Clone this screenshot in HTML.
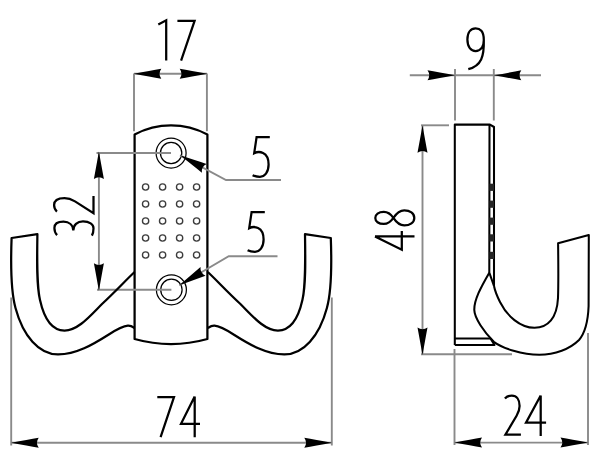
<!DOCTYPE html>
<html><head><meta charset="utf-8"><style>html,body{margin:0;padding:0;background:#fff;}svg{display:block;}</style></head>
<body><svg width="600" height="461" viewBox="0 0 600 461">
<rect width="600" height="461" fill="#fff"/>
<path d="M134,73.5 L134,131.2" stroke="#8a8a8a" stroke-width="1.9" fill="none"/>
<path d="M206.9,73.5 L206.9,131.2" stroke="#8a8a8a" stroke-width="1.9" fill="none"/>
<path d="M134,73.7 L207,73.7" stroke="#8a8a8a" stroke-width="1.9" fill="none"/>
<path d="M133.80,73.70 Q150.30,76.65 161.30,78.70 Q157.80,73.70 161.30,68.70 Q150.30,70.75 133.80,73.70 Z" fill="#000"/>
<path d="M207.20,73.70 Q190.70,70.75 179.70,68.70 Q183.20,73.70 179.70,78.70 Q190.70,76.65 207.20,73.70 Z" fill="#000"/>
<path d="M158.3,24.6 L166.2,20.3 V60.6 M177.4,20.9 H194.6 L181.1,60.6" stroke="#000" stroke-width="2.25" fill="none" stroke-linecap="butt" stroke-linejoin="miter" stroke-miterlimit="6"/>
<path d="M134.6,134.5 A77.4,77.4 0 0 1 207.4,134.5 V339 A135,135 0 0 1 134.6,339 Z" stroke="#000" stroke-width="2.25" fill="none" stroke-linejoin="round"/>
<circle cx="171.1" cy="153" r="15.0" stroke="#000" stroke-width="1.25" fill="none"/>
<circle cx="171.1" cy="153" r="10.7" stroke="#000" stroke-width="1.25" fill="none"/>
<circle cx="171.4" cy="289.8" r="15.0" stroke="#000" stroke-width="1.25" fill="none"/>
<circle cx="171.4" cy="289.8" r="10.7" stroke="#000" stroke-width="1.25" fill="none"/>
<circle cx="145.6" cy="187" r="3.15" stroke="#3c3c3c" stroke-width="1.35" fill="none"/>
<circle cx="145.6" cy="204" r="3.15" stroke="#3c3c3c" stroke-width="1.35" fill="none"/>
<circle cx="145.6" cy="221" r="3.15" stroke="#3c3c3c" stroke-width="1.35" fill="none"/>
<circle cx="145.6" cy="238" r="3.15" stroke="#3c3c3c" stroke-width="1.35" fill="none"/>
<circle cx="145.6" cy="255" r="3.15" stroke="#3c3c3c" stroke-width="1.35" fill="none"/>
<circle cx="162.6" cy="187" r="3.15" stroke="#3c3c3c" stroke-width="1.35" fill="none"/>
<circle cx="162.6" cy="204" r="3.15" stroke="#3c3c3c" stroke-width="1.35" fill="none"/>
<circle cx="162.6" cy="221" r="3.15" stroke="#3c3c3c" stroke-width="1.35" fill="none"/>
<circle cx="162.6" cy="238" r="3.15" stroke="#3c3c3c" stroke-width="1.35" fill="none"/>
<circle cx="162.6" cy="255" r="3.15" stroke="#3c3c3c" stroke-width="1.35" fill="none"/>
<circle cx="179.6" cy="187" r="3.15" stroke="#3c3c3c" stroke-width="1.35" fill="none"/>
<circle cx="179.6" cy="204" r="3.15" stroke="#3c3c3c" stroke-width="1.35" fill="none"/>
<circle cx="179.6" cy="221" r="3.15" stroke="#3c3c3c" stroke-width="1.35" fill="none"/>
<circle cx="179.6" cy="238" r="3.15" stroke="#3c3c3c" stroke-width="1.35" fill="none"/>
<circle cx="179.6" cy="255" r="3.15" stroke="#3c3c3c" stroke-width="1.35" fill="none"/>
<circle cx="196.6" cy="187" r="3.15" stroke="#3c3c3c" stroke-width="1.35" fill="none"/>
<circle cx="196.6" cy="204" r="3.15" stroke="#3c3c3c" stroke-width="1.35" fill="none"/>
<circle cx="196.6" cy="221" r="3.15" stroke="#3c3c3c" stroke-width="1.35" fill="none"/>
<circle cx="196.6" cy="238" r="3.15" stroke="#3c3c3c" stroke-width="1.35" fill="none"/>
<circle cx="196.6" cy="255" r="3.15" stroke="#3c3c3c" stroke-width="1.35" fill="none"/>
<path d="M98.9,152.5 L98.9,290" stroke="#8a8a8a" stroke-width="1.9" fill="none"/>
<path d="M96.5,153 L171,153" stroke="#8a8a8a" stroke-width="1.9" fill="none"/>
<path d="M97,289.8 L171.4,289.8" stroke="#8a8a8a" stroke-width="1.9" fill="none"/>
<path d="M98.90,151.60 Q95.95,168.10 93.90,179.10 Q98.90,175.60 103.90,179.10 Q101.85,168.10 98.90,151.60 Z" fill="#000"/>
<path d="M98.90,290.80 Q101.85,274.30 103.90,263.30 Q98.90,266.80 93.90,263.30 Q95.95,274.30 98.90,290.80 Z" fill="#000"/>
<path d="M180,155.3 L226,180 L281,180" stroke="#8a8a8a" stroke-width="1.9" fill="none"/>
<path d="M180.00,155.30 Q193.14,165.70 201.86,172.71 Q201.14,166.65 206.59,163.90 Q195.93,160.51 180.00,155.30 Z" fill="#000"/>
<path d="M179.3,285.3 L228.75,256.3 L277.5,256.3" stroke="#8a8a8a" stroke-width="1.9" fill="none"/>
<path d="M179.30,285.30 Q195.03,279.50 205.55,275.70 Q200.00,273.16 200.49,267.08 Q192.04,274.41 179.30,285.30 Z" fill="#000"/>
<path d="M269.8,137 H256.6 L254.2,153.2 C258.5,151 268.6,151 268.6,164.5 C268.6,172.5 264.5,176.8 260,176.8 C257,176.8 254.5,176.2 252.6,175.2" stroke="#000" stroke-width="2.25" fill="none" stroke-linecap="butt" stroke-linejoin="miter" stroke-miterlimit="6"/>
<path d="M269.8,137 H256.6 L254.2,153.2 C258.5,151 268.6,151 268.6,164.5 C268.6,172.5 264.5,176.8 260,176.8 C257,176.8 254.5,176.2 252.6,175.2" transform="translate(-5,75)" stroke="#000" stroke-width="2.25" fill="none" stroke-linecap="butt" stroke-linejoin="miter" stroke-miterlimit="6"/>
<path d="M134.6,272 C126,280 115,292 102,304 C90,316 78,330.5 64.5,330.5 C52,330.5 44,318 40,300 C36.5,285 37,260 37.4,234.2 L11.6,238 C10.6,265 11,292 15.5,308 C23,336 39,354.5 58,354.4 C76,354.5 93,344.5 108,335 C115,330.5 122,326 127.9,325.7 C131,325.5 133,327 134.6,328" stroke="#000" stroke-width="2.25" fill="none" stroke-linejoin="round"/>
<path d="M134.6,272 C126,280 115,292 102,304 C90,316 78,330.5 64.5,330.5 C52,330.5 44,318 40,300 C36.5,285 37,260 37.4,234.2 L11.6,238 C10.6,265 11,292 15.5,308 C23,336 39,354.5 58,354.4 C76,354.5 93,344.5 108,335 C115,330.5 122,326 127.9,325.7 C131,325.5 133,327 134.6,328" transform="translate(342.4,0) scale(-1,1)" stroke="#000" stroke-width="2.25" fill="none" stroke-linejoin="round"/>
<path d="M11.2,297.5 L11.2,445.5" stroke="#8a8a8a" stroke-width="1.9" fill="none"/>
<path d="M331.8,297.5 L331.8,445.5" stroke="#8a8a8a" stroke-width="1.9" fill="none"/>
<path d="M11.2,442.8 L331.8,442.8" stroke="#8a8a8a" stroke-width="1.9" fill="none"/>
<path d="M11.20,442.80 Q27.70,445.75 38.70,447.80 Q35.20,442.80 38.70,437.80 Q27.70,439.85 11.20,442.80 Z" fill="#000"/>
<path d="M331.80,442.80 Q315.30,439.85 304.30,437.80 Q307.80,442.80 304.30,447.80 Q315.30,445.75 331.80,442.80 Z" fill="#000"/>
<path d="M157.3,397 H174 L160.6,437.2 M194.7,396.6 V437.2 M194.7,396.6 L181,423.8 H200" stroke="#000" stroke-width="2.25" fill="none" stroke-linecap="butt" stroke-linejoin="miter" stroke-miterlimit="6"/>
<path d="M455,69 L455,120.5" stroke="#8a8a8a" stroke-width="1.9" fill="none"/>
<path d="M493.8,69 L493.8,120.5" stroke="#8a8a8a" stroke-width="1.9" fill="none"/>
<path d="M409.8,75.3 L541,75.3" stroke="#8a8a8a" stroke-width="1.9" fill="none"/>
<path d="M455.00,75.30 Q438.50,72.35 427.50,70.30 Q431.00,75.30 427.50,80.30 Q438.50,78.25 455.00,75.30 Z" fill="#000"/>
<path d="M493.80,75.30 Q510.30,78.25 521.30,80.30 Q517.80,75.30 521.30,70.30 Q510.30,72.35 493.80,75.30 Z" fill="#000"/>
<path d="M483.8,40 C483.8,31 480,28.4 475.6,28.4 C471,28.4 467.4,32 467.4,39.6 C467.4,47 471,51 475.6,51 C480,51 483.8,47.5 483.8,40 C484.2,56.5 481.5,65.5 468.3,69.2" stroke="#000" stroke-width="2.25" fill="none" stroke-linecap="butt" stroke-linejoin="miter" stroke-miterlimit="6"/>
<path d="M454.8,345 V124.6 H490 L494,127 V286" stroke="#000" stroke-width="2.05" fill="none" stroke-linejoin="round"/>
<path d="M489.5,124.6 L489.3,272.7 L494,286" stroke="#000" stroke-width="2.05" fill="none" stroke-linejoin="round"/>
<path d="M454.8,338.5 L490.5,338.5" stroke="#000" stroke-width="2.05" fill="none" stroke-linejoin="round"/>
<path d="M454.8,345 L494.5,345 L490.5,338.5" stroke="#000" stroke-width="2.05" fill="none" stroke-linejoin="round"/>
<path d="M489.3,272.7 C481,287 474,300 474.3,310 C474.5,318 484,332 493.8,341.8 C503,348.5 522,354.8 539.3,354.8 C555,354.8 570,349 579,340 C585,333 588,322 588.6,306 L588.8,235 L558.1,243.2 C558.3,262 558.6,282 558,298 C557,318 548,327.8 534.5,327.8 C520,327.8 507,316 500,302 C496.5,295 494.8,290 494,286" stroke="#000" stroke-width="2.05" fill="none" stroke-linejoin="round"/>
<path d="M422.5,126 L422.5,354" stroke="#8a8a8a" stroke-width="1.9" fill="none"/>
<path d="M421,125.3 L449,125.3" stroke="#8a8a8a" stroke-width="1.9" fill="none"/>
<path d="M421,354.2 L512,354.2" stroke="#8a8a8a" stroke-width="1.9" fill="none"/>
<path d="M422.50,125.20 Q419.55,141.70 417.50,152.70 Q422.50,149.20 427.50,152.70 Q425.45,141.70 422.50,125.20 Z" fill="#000"/>
<path d="M422.50,355.00 Q425.45,338.50 427.50,327.50 Q422.50,331.00 417.50,327.50 Q419.55,338.50 422.50,355.00 Z" fill="#000"/>
<g transform="translate(375,250.9) rotate(-90)"><path d="M14.5,0 V39.5 M14.5,0 L1.2,26.8 H19.9 M33,18.4 C36.5,16 39,13.5 39,8.8 C39,3.5 36.5,0.3 33,0.3 C29.5,0.3 26.9,3.5 26.9,8.8 C26.9,13.5 29.5,16 33,18.4 C37,21 40.6,24 40.6,29.3 C40.6,35 37.5,39.3 33,39.3 C28.5,39.3 25.5,35 25.5,29.3 C25.5,24 29,21 33,18.4 Z" stroke="#000" stroke-width="2.25" fill="none" stroke-linecap="butt" stroke-linejoin="miter" stroke-miterlimit="6"/></g>
<g transform="translate(53.5,237) rotate(-90)"><path d="M1.9,3.6 C4,1.4 6.8,0.9 9,0.9 C13.3,0.9 15.3,4.7 15.3,10 C15.3,15.5 12,19.6 6.5,19.8 C12,19.8 15.6,23.8 15.6,29.5 C15.6,36 12.5,40 8.8,40 C5.8,40 3,39.3 1.4,38.4 M25.4,3.4 C27.1,1.5 29.4,0.6 31.9,0.6 C36.4,0.6 38.9,4.5 38.9,11 C38.9,14.8 37.6,18.2 35.6,21.5 L23.9,40 H40.9" stroke="#000" stroke-width="2.25" fill="none" stroke-linecap="butt" stroke-linejoin="miter" stroke-miterlimit="6"/></g>
<path d="M454.5,349 L454.5,445" stroke="#8a8a8a" stroke-width="1.9" fill="none"/>
<path d="M588,333 L588,445" stroke="#8a8a8a" stroke-width="1.9" fill="none"/>
<path d="M454.5,442.6 L588,442.6" stroke="#8a8a8a" stroke-width="1.9" fill="none"/>
<path d="M454.50,442.60 Q471.00,445.55 482.00,447.60 Q478.50,442.60 482.00,437.60 Q471.00,439.65 454.50,442.60 Z" fill="#000"/>
<path d="M588.00,442.60 Q571.50,439.65 560.50,437.60 Q564.00,442.60 560.50,447.60 Q571.50,445.55 588.00,442.60 Z" fill="#000"/>
<path d="M504.9,398.6 C506.6,396.6 509.2,395.6 511.8,395.6 C516.6,395.6 519.6,399.5 519.6,406 C519.6,409.5 518.5,412.5 516.6,415.7 L505.4,434.7 H520.9 M540.7,395.5 V436 M540.7,395.5 L526,422.6 H546.1" stroke="#000" stroke-width="2.25" fill="none" stroke-linecap="butt" stroke-linejoin="miter" stroke-miterlimit="6"/>
<rect x="489.5" y="183.70000000000002" width="4.5" height="7.2" fill="#262626"/>
<rect x="489.5" y="200.6" width="4.5" height="7.2" fill="#262626"/>
<rect x="489.5" y="217.6" width="4.5" height="7.2" fill="#262626"/>
<rect x="489.5" y="234.3" width="4.5" height="7.2" fill="#262626"/>
<rect x="489.5" y="251.8" width="4.5" height="7.2" fill="#262626"/>
</svg></body></html>
